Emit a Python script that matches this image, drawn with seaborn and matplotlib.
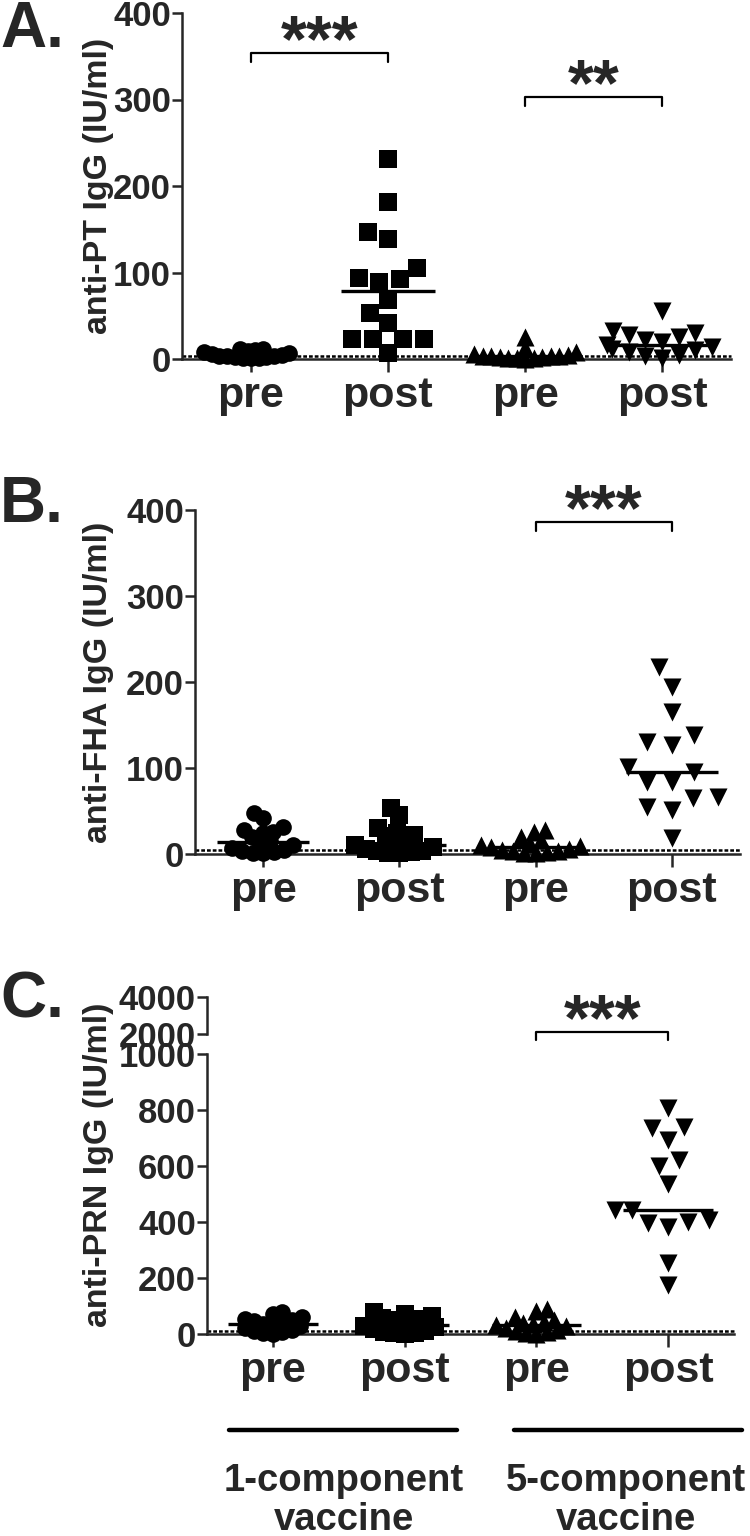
import warnings
import numpy as np
import pandas as pd
import matplotlib
matplotlib.use("Agg")
import matplotlib.pyplot as plt
import matplotlib.transforms as mtransforms
import seaborn as sns

warnings.filterwarnings("ignore")

# ---------------- data ----------------
groups = ["1c_pre", "1c_post", "5c_pre", "5c_post"]
tick_labels = ["pre", "post", "pre", "post"]
markers = ["o", "s", "^", "v"]
vaccine_labels = ["1-component\nvaccine", "5-component\nvaccine"]

pt_1c_pre = [12, 11, 10, 9, 8, 7, 6, 5, 4, 3, 3, 2, 2, 1, 1, 1]
pt_1c_post = [231, 181, 147, 139, 105, 94, 92, 89, 68, 53, 42, 23, 23, 23, 23, 7]
pt_5c_pre = [25, 13, 8, 6, 5, 4, 4, 3, 3, 2, 2, 1, 1, 1, 0.5]
pt_5c_post = [55, 32, 30, 28, 25, 22, 20, 16, 14, 12, 10, 8, 5, 3, 1]

fha_1c_pre = [48, 42, 31, 28, 26, 24, 20, 15, 12, 10, 7, 5, 3, 2, 1, 1]
fha_1c_post = [53, 45, 30, 24, 22, 21, 15, 12, 10, 8, 6, 4, 3, 2, 1, 1]
fha_5c_pre = [28, 26, 20, 16, 12, 10, 9, 8, 6, 5, 4, 3, 2, 1, 1]
fha_5c_post = [217, 194, 165, 138, 130, 127, 101, 95, 84, 84, 66, 65, 55, 51, 19]

prn_1c_pre = [78, 70, 62, 55, 50, 45, 40, 37, 35, 30, 22, 15, 10, 6, 3, 1]
prn_1c_post = [80, 72, 65, 58, 55, 50, 42, 35, 30, 25, 18, 12, 8, 5, 2, 1]
prn_5c_pre = [90, 82, 60, 50, 42, 38, 35, 32, 28, 22, 15, 10, 6, 3, 1]
prn_5c_post = [807, 739, 736, 693, 621, 600, 536, 443, 443, 407, 400, 396, 382, 254, 175]

lloq_pt, lloq_fha, lloq_prn = 4, 5, 10

sig_pt = [("***", 0, 1, 354), ("**", 2, 3, 303)]
sig_fha = [("***", 2, 3, 386)]
sig_prn = [("***", 2, 3, 1079)]

# ---------------- style ----------------
sns.set_style("ticks")
plt.rcParams["font.family"] = ["Liberation Sans", "DejaVu Sans"]
plt.rcParams["font.weight"] = "bold"
plt.rcParams["axes.linewidth"] = 1.8

W, H = 750, 1536
fig = plt.figure(figsize=(W / 100, H / 100), dpi=100)


def add_ax(l, t, r, b):
    return fig.add_axes([l / W, 1 - b / H, (r - l) / W, (b - t) / H])


def fx(px):
    return px / W


def fy(py):
    return 1 - py / H


MS = {"o": 12, "s": 13, "^": 13, "v": 13}
swarm_sets = []


def make_df(series):
    return pd.DataFrame({
        "group": np.repeat(groups, [len(s) for s in series]),
        "value": np.concatenate([np.asarray(s, float) for s in series]),
    })


def draw_panel(ax, series, ylim, yticks, lloq, sigs, ylabel, label_center_py, sig_leg, spread):
    df = make_df(series)
    ax.set_xlim(-0.5, 3.5)
    ax.set_ylim(*ylim)
    for g, m, f in zip(groups, markers, spread):
        n0 = len(ax.collections)
        sns.swarmplot(data=df[df.group == g], x="group", y="value", order=groups,
                      marker=m, color="black", size=MS[m] * f, ax=ax,
                      clip_on=False, zorder=3, linewidth=0)
        swarm_sets.append((ax.collections[n0:], MS[m]))
    ax.set_xlim(-0.5, 3.5)
    ax.set_ylim(*ylim)
    med = df.groupby("group")["value"].median()
    for i, g in enumerate(groups):
        ax.hlines(med[g], i - 0.34, i + 0.34, color="black", lw=2.4, zorder=4, clip_on=False)
    ax.axhline(lloq, color="black", lw=1.8, ls=(0, (1.5, 0.8)), zorder=2, clip_on=False)
    for txt, i, j, yv in sigs:
        ax.plot([i, i, j, j], [yv - sig_leg, yv, yv, yv - sig_leg], color="black",
                lw=1.6, clip_on=False)
        ax.annotate(txt, xy=((i + j) / 2, yv), xytext=(0, -6), textcoords="offset points",
                    ha="center", va="baseline", fontsize=48, fontweight="bold",
                    annotation_clip=False)
    ax.set_yticks(yticks)
    ax.set_xticks(range(len(groups)))
    ax.set_xticklabels(tick_labels)
    ax.set_xlabel("")
    ax.set_ylabel(ylabel, fontsize=24.5, fontweight="bold")
    ax.yaxis.set_label_coords(fx(114), fy(label_center_py), transform=fig.transFigure)
    sns.despine(ax=ax)
    ax.tick_params(axis="y", direction="out", length=7, width=1.8, pad=1, labelsize=25)
    ax.tick_params(axis="x", direction="out", length=9, width=1.8, pad=3, labelsize=31)
    for lab in ax.get_xticklabels() + ax.get_yticklabels():
        lab.set_fontweight("bold")


# Panel A
axA = add_ax(182, 13, 731, 359)
draw_panel(axA, [pt_1c_pre, pt_1c_post, pt_5c_pre, pt_5c_post], (0, 400),
           [0, 100, 200, 300, 400], lloq_pt, sig_pt, "anti-PT IgG (IU/ml)", 186, 11,
           [0.45, 1.1, 0.45, 0.9])

# Panel B
axB = add_ax(195, 510, 740, 854)
draw_panel(axB, [fha_1c_pre, fha_1c_post, fha_5c_pre, fha_5c_post], (0, 400),
           [0, 100, 200, 300, 400], lloq_fha, sig_fha, "anti-FHA IgG (IU/ml)", 682, 10,
           [0.6, 0.6, 0.6, 1.3])

# Panel C (broken axis)
axC = add_ax(207, 1054, 734, 1334)
draw_panel(axC, [prn_1c_pre, prn_1c_post, prn_5c_pre, prn_5c_post], (0, 1000),
           [0, 200, 400, 600, 800, 1000], lloq_prn, sig_prn, "anti-PRN IgG (IU/ml)", 1165, 30,
           [0.55, 0.55, 0.55, 1.1])

axCu = add_ax(207, 997, 734, 1034)
axCu.set_xlim(-0.5, 3.5)
axCu.set_ylim(2000, 4000)
axCu.set_yticks([2000, 4000])
axCu.set_xticks([])
axCu.patch.set_alpha(0)
sns.despine(ax=axCu, bottom=True)
axCu.tick_params(axis="y", direction="out", length=7, width=1.8, pad=1, labelsize=25)
for lab in axCu.get_yticklabels():
    lab.set_fontweight("bold")

# group lines and labels under panel C
trans = mtransforms.blended_transform_factory(axC.transData, fig.transFigure)
for (x0, x1), xc, txt in zip([(-0.33, 1.40), (1.83, 3.56)], [0.54, 2.68], vaccine_labels):
    axC.plot([x0, x1], [fy(1430), fy(1430)], color="black", lw=3.2,
             transform=trans, clip_on=False, solid_capstyle="round")
    axC.text(xc, fy(1463), txt, transform=trans, ha="center", va="top",
             fontsize=27.5, fontweight="bold", linespacing=1.12)

# panel letters
for txt, py in [("A.", 47), ("B.", 522), ("C.", 1018)]:
    fig.text(fx(0), fy(py), txt, ha="left", va="baseline", fontsize=46, fontweight="bold")

# compute swarm layout with the collision size chosen above, then set marker sizes
fig.canvas.draw()
for colls, ms in swarm_sets:
    for c in colls:
        if "draw" in c.__dict__:
            del c.draw
        c.set_sizes([ms ** 2])

fig.savefig("out.png", dpi=100)
